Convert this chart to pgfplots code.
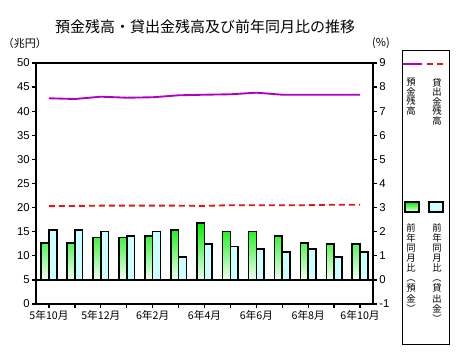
\documentclass[border=0pt]{standalone}
\usepackage{pgfplots}
\pgfplotsset{compat=1.18}
\usepackage{fontspec}
\setmainfont{Liberation Sans}
\newfontfamily\jp{Noto Sans CJK JP}
\definecolor{magline}{HTML}{B000C0}
\definecolor{redline}{HTML}{E01818}
\definecolor{gtop}{HTML}{00F000}
\definecolor{gbot}{HTML}{F2FFF2}
\definecolor{cyanbar}{HTML}{CCFFFF}
\begin{document}
\begin{tikzpicture}
\begin{axis}[
  at={(0,0)}, anchor=south west,
  scale only axis, width=252.75pt, height=180.75pt,
  xmin=-0.5, xmax=12.5, ymin=0, ymax=50,
  xtick={0,...,12},
  xticklabels={5年10月,,5年12月,,6年2月,,6年4月,,6年6月,,6年8月,,6年10月},
  ytick={0,5,...,50},
  ytick pos=left, xtick pos=lower,
  tick align=outside, major tick length=3pt,
  axis line style={line width=1.2pt},
  every tick/.style={black, line width=1pt},
  /pgf/number format/assume math mode=true,
  yticklabel style={font=\fontsize{8.5}{9}\selectfont, inner sep=1.5pt},
  xticklabel style={font=\jp\fontsize{8}{9}\selectfont, inner sep=2pt},
]
\addplot[magline, line width=1.4pt, mark=none] coordinates {
 (0,42.68) (1,42.53) (2,43.01) (3,42.80) (4,42.89) (5,43.30) (6,43.42)
 (7,43.51) (8,43.84) (9,43.42) (10,43.42) (11,43.42) (12,43.42)};
\addplot[redline, line width=1.4pt, dash pattern=on 4.5pt off 3pt, mark=none] coordinates {
 (0,20.3) (1,20.35) (2,20.4) (3,20.4) (4,20.4) (5,20.4) (6,20.35)
 (7,20.5) (8,20.5) (9,20.5) (10,20.5) (11,20.6) (12,20.6)};
\end{axis}
\begin{axis}[
  at={(0,0)}, anchor=south west,
  scale only axis, width=252.75pt, height=180.75pt,
  xmin=-0.5, xmax=12.5, ymin=-1, ymax=9,
  hide x axis,
  axis y line*=right,
  ytick={-1,0,...,9},
  tick align=outside, major tick length=3pt,
  axis line style={line width=1.2pt, -},
  every tick/.style={black, line width=1pt},
  /pgf/number format/assume math mode=true,
  yticklabel style={font=\fontsize{8.5}{9}\selectfont, inner sep=1.5pt},
]
\draw[black, line width=1.1pt] (rel axis cs:0,0.1) -- (rel axis cs:1,0.1);
\addplot[ybar, bar width=0.3, bar shift=-0.15, draw=black, line width=1.2pt,
  top color=gtop, bottom color=gbot] coordinates {
 (0,1.52) (1,1.52) (2,1.76) (3,1.76) (4,1.83) (5,2.07) (6,2.37)
 (7,2.0) (8,2.0) (9,1.83) (10,1.54) (11,1.49) (12,1.49)};
\addplot[ybar, bar width=0.3, bar shift=0.15, draw=black, line width=1.2pt,
  fill=cyanbar] coordinates {
 (0,2.07) (1,2.07) (2,2.0) (3,1.83) (4,2.0) (5,0.96) (6,1.49)
 (7,1.38) (8,1.27) (9,1.17) (10,1.27) (11,0.96) (12,1.17)};
\end{axis}
% title and axis unit labels
\node[font=\jp\fontsize{11.25}{12}\selectfont] at (126.75pt,207.75pt) {預金残高・貸出金残高及び前年同月比の推移};
\node[font=\jp\fontsize{8.25}{9}\selectfont] at (-8.25pt,195.75pt) {（兆円）};
\node[font=\jp\fontsize{8.25}{9}\selectfont] at (258.75pt,195.75pt) {(\%)};
% legend
\draw[black, line width=0.7pt] (274.5pt,190.5pt) rectangle (309.75pt,-30pt);
\draw[magline, line width=1.4pt] (275.5pt,180pt) -- (289.5pt,180pt);
\draw[redline, line width=1.4pt, dash pattern=on 4.5pt off 3pt] (293.25pt,180pt) -- (306.75pt,180pt);
\node[anchor=north, align=center, inner sep=0pt, font=\jp\fontsize{7}{7.2}\selectfont] at (281.25pt,169.5pt) {預\\金\\残\\高};
\node[anchor=north, align=center, inner sep=0pt, font=\jp\fontsize{7}{7.2}\selectfont] at (300.75pt,169.5pt) {貸\\出\\金\\残\\高};
\draw[black, line width=1.2pt, top color=gtop, bottom color=gbot] (276.75pt,76.5pt) rectangle (287.25pt,69pt);
\draw[black, line width=1.2pt, fill=cyanbar] (294.75pt,76.5pt) rectangle (305.25pt,69pt);
\node[anchor=north, align=center, inner sep=0pt, font=\jp\fontsize{7}{7.6}\selectfont] at (281.25pt,60.75pt) {前\\年\\同\\月\\比\\︵\\預\\金\\︶};
\node[anchor=north, align=center, inner sep=0pt, font=\jp\fontsize{7}{7.6}\selectfont] at (300.75pt,60.75pt) {前\\年\\同\\月\\比\\︵\\貸\\出\\金\\︶};
\pgfresetboundingbox
\path (-27pt,-39.75pt) rectangle (325.5pt,228pt);
\end{tikzpicture}
\end{document}
